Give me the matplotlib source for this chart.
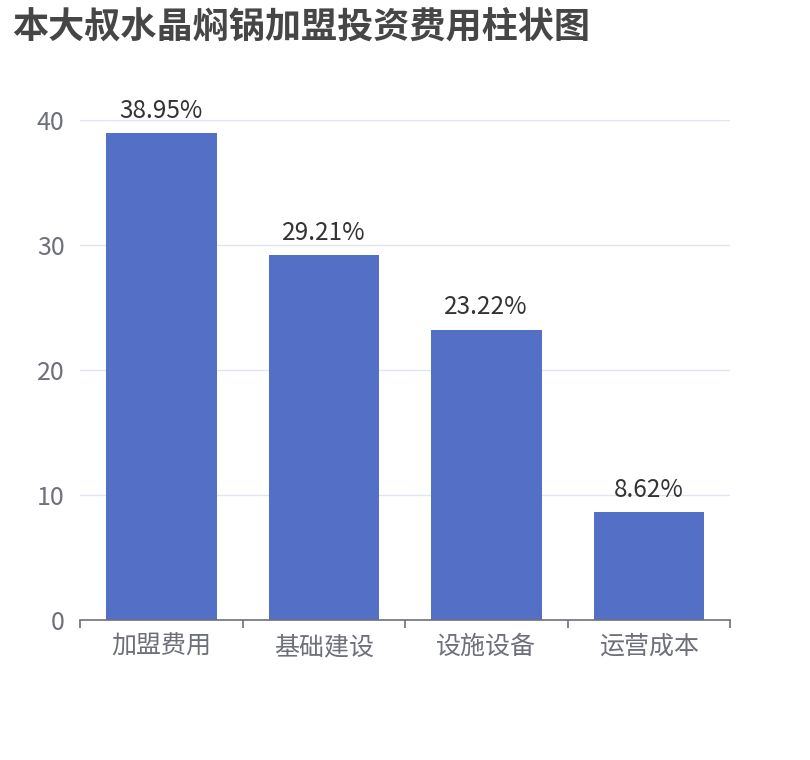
import matplotlib.pyplot as plt
import numpy as np

plt.rcParams['font.family'] = ['Noto Sans CJK SC', 'DejaVu Sans']

# 数据
categories = ['加盟费用', '基础建设', '设施设备', '运营成本']
values = [38.95, 29.21, 23.22, 8.62]
labels = ['38.95%', '29.21%', '23.22%', '8.62%']
y_ticks = [0, 10, 20, 30, 40]

fig = plt.figure(figsize=(8.1, 7.6), dpi=100)
ax = fig.add_axes([80 / 810, 1 - 620 / 760, 650 / 810, 500 / 760])

x = np.arange(len(categories))
bars = ax.bar(x, values, width=0.68, color='#5470C6', zorder=3)

for b, lab in zip(bars, labels):
    ax.text(b.get_x() + b.get_width() / 2, b.get_height() + 0.75, lab,
            ha='center', va='bottom', fontsize=17.5, color='#333333')

ax.set_xlim(-0.5, len(categories) - 0.5)
ax.set_ylim(0, 40)
ax.set_yticks(y_ticks)
ax.set_xticks(x)
ax.set_xticklabels(categories)
ax.set_xticks(np.arange(len(categories) + 1) - 0.5, minor=True)

ax.grid(axis='y', color='#E0E6F1', linewidth=1, zorder=0)
for s in ['top', 'right', 'left']:
    ax.spines[s].set_visible(False)
ax.spines['bottom'].set_color('#6E7079')
ax.spines['bottom'].set_linewidth(1.2)
ax.spines['bottom'].set_zorder(4)

ax.tick_params(axis='x', which='major', length=0, pad=10, labelsize=18, labelcolor='#6E7079')
ax.tick_params(axis='x', which='minor', length=6, width=1.2, color='#6E7079')
ax.tick_params(axis='y', length=0, pad=11, labelsize=18, labelcolor='#6E7079')

fig.text(12 / 810, 1 - 28 / 760, '本大叔水晶焖锅加盟投资费用柱状图', fontsize=26,
         fontweight='bold', color='#464646', ha='left', va='center')

fig.savefig('out.png', dpi=100)
